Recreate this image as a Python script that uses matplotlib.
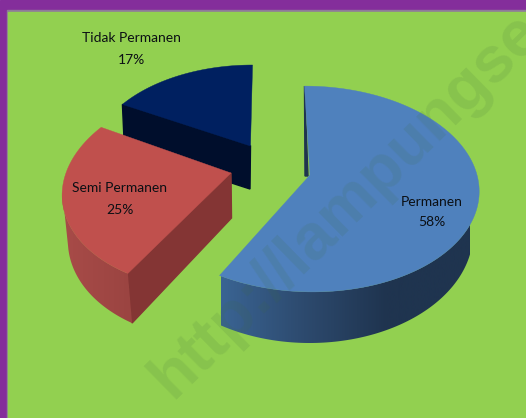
import numpy as np
import matplotlib
matplotlib.use("Agg")
import matplotlib.pyplot as plt
from matplotlib.patches import Polygon, Rectangle
from matplotlib.colors import LinearSegmentedColormap

labels = ["Permanen", "Semi Permanen", "Tidak Permanen"]
values = [58, 25, 17]

# perspective of the pie: top face and bottom face of each exploded slice
# (apex x, apex y, a, b, shear) in pixels
K = 0.136
top_face = [(308, 175, 169, 101, -4), (231, 173, 165, 101, 13), (250.5, 146, 157, 92, 2.3)]
bot_face = [(309.6, 218, 162, 108, 0), (231.5, 218, 160, 105.6, 12), (250, 189, 154, 90, 2.3)]
face_col = ["#4f81bd", "#c0504d", "#002060"]
cut_col = [None, "#843534", "#000e2c"]
wall_grad = [["#3a6493", "#2d4a6e", "#1f344f", "#1f344f"], ["#a84b48", "#9a4441"], None]
wall_x = [(221, 470), (62, 135), None]
# silhouette angles: where the wall leaves the top face and meets the bottom one
wall_ends = [(-10, -15), (-170, -165), None]
label_pos = [(432, 212), (120, 199), (131, 49)]


def proj(p, deg):
    t = np.radians(deg)
    u, v = np.cos(t), np.sin(t)
    d = 1 + K * v
    return np.column_stack([p[0] + (p[2] * u + p[4] * v) / d, p[1] - p[3] * v / d])


fig = plt.figure(figsize=(5.26, 4.18), dpi=100)
ax = fig.add_axes([0, 0, 1, 1])
ax.axis("off")

ax.add_patch(Rectangle((0, 0), 526, 418, color="#842e9b", zorder=0))
ax.add_patch(Rectangle((7, 10), 519, 408, color="#8f7a9a", zorder=0.5))
ax.add_patch(Rectangle((7.6, 11.5), 519, 408, color="#92d050", zorder=1))

debuts = 90 - np.cumsum([0] + values[:-1]) * 3.6
fins = debuts - np.array(values) * 3.6
z = 2
for i in [2, 1, 0]:
    T, B = top_face[i], bot_face[i]
    a0, a1 = debuts[i], fins[i]
    pt = proj(T, np.linspace(a0, a1, 200))
    apex_t = np.array(T[:2], float)
    apex_b = np.array(B[:2], float)
    # straight cut facing the viewer
    if cut_col[i]:
        ax.add_patch(Polygon([apex_t, proj(T, a0)[0], proj(B, a0)[0], apex_b], color=cut_col[i], zorder=z))
    # rounded wall with gradient
    if wall_grad[i]:
        coin = a1 if i == 0 else a0
        contour = np.vstack([proj(T, np.linspace(coin, wall_ends[i][0], 120)),
                             proj(B, np.linspace(wall_ends[i][1], coin, 120))])
        clip = Polygon(contour, closed=True, transform=ax.transData, fc="none", ec="none")
        ax.add_patch(clip)
        cmap = LinearSegmentedColormap.from_list("mur", wall_grad[i])
        im = ax.imshow(np.linspace(0, 1, 256).reshape(1, -1), cmap=cmap, aspect="auto", zorder=z,
                       extent=[wall_x[i][0], wall_x[i][1], 418, 0])
        im.set_clip_path(clip)
    # thin back wall of the big slice
    if i == 0:
        ax.add_patch(Polygon([pt[0], apex_t + [0, 1], apex_t + [-3, 1]], color="#1f344f", zorder=z))
    ax.add_patch(Polygon(np.vstack([apex_t + ([2, 0] if i == 0 else [0, 0]), pt]), color=face_col[i], lw=0.3, zorder=z + 1))
    z += 2

for lab, v, (x, y) in zip(labels, values, label_pos):
    ax.text(x, y, f"{lab}\n{v}%", ha="center", va="center", family="Lato", fontsize=10,
            color="#0b0f14", linespacing=1.9, zorder=20)

ax.text(172, 400, "http://lampungse", rotation=44.5, rotation_mode="anchor", ha="left", va="baseline",
        family="Liberation Sans", weight="bold", fontsize=46.6, color="#3f6b3a", alpha=0.13,
        clip_on=True, zorder=30)

ax.set_xlim(0, 526)
ax.set_ylim(418, 0)
fig.savefig("out.png", dpi=100)
